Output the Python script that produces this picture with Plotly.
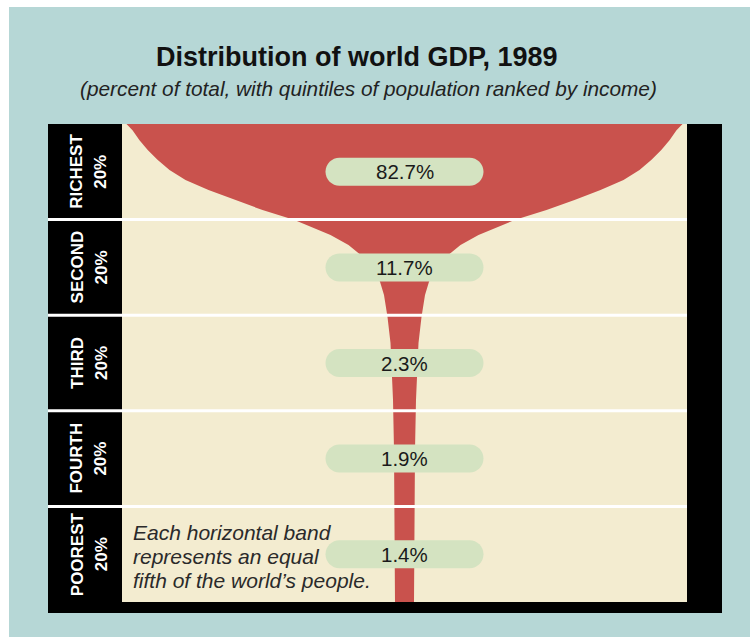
import plotly.graph_objects as go

# ---------------- data ----------------
quintiles = ["RICHEST", "SECOND", "THIRD", "FOURTH", "POOREST"]
population_share = [20, 20, 20, 20, 20]          # % of world population per band
gdp_share = [82.7, 11.7, 2.3, 1.9, 1.4]          # % of world GDP per band

# outline of the "champagne glass":
# population rank (0 = poorest, 100 = richest) and half-width of the red shape
funnel_rank = [100.0, 98.7, 96.6, 94.6, 92.5, 90.4, 88.3, 86.2, 84.1, 82.0, 79.9,
               78.9, 76.8, 74.7, 73.2, 71.6, 69.5, 67.0, 64.2, 59.6, 54.2, 48.5,
               42.3, 31.8, 21.3, 0.0]
funnel_halfwidth = [278, 272, 265, 257, 247, 235, 219, 196, 170, 142, 110,
                    98, 74, 56, 47, 38, 30.5, 24.5, 20.5, 17, 14, 12.5,
                    11.5, 10.5, 10, 9.5]

title = "Distribution of world GDP, 1989"
subtitle = "(percent of total, with quintiles of population ranked by income)"
note_lines = ["Each horizontal band", "represents an equal",
              "fifth of the world\u2019s people."]

# ---------------- styling ----------------
TEAL = "#b6d7d6"
CREAM = "#f3ecd0"
RED = "#c9524d"
PILL = "#d4e3c1"
INK = "#1a1a1a"
FONT = "Liberation Sans, Arial, Helvetica, sans-serif"

W, H = 750, 637
ML, MR, MT, MB = 122, 63, 124, 35
PW, PH = W - ML - MR, H - MT - MB


def px_x(p):   # pixel x -> paper x
    return (p - ML) / PW


def px_y(p):   # pixel y -> paper y
    return (H - MB - p) / PH


# band geometry derived from population shares (top = richest)
tops, bottoms = [], []
acc = 100.0
for s in population_share:
    tops.append(acc)
    bottoms.append(acc - s)
    acc -= s
centers = [(t + b) / 2 for t, b in zip(tops, bottoms)]

fig = go.Figure()

xs = list(funnel_halfwidth) + [-v for v in reversed(funnel_halfwidth)]
ys = list(funnel_rank) + list(reversed(funnel_rank))
fig.add_trace(go.Scatter(x=xs, y=ys, fill="toself", fillcolor=RED,
                         mode="lines", line=dict(width=0, color=RED),
                         hoverinfo="skip", showlegend=False))

shapes = []
# white outer margin (top / left)
shapes.append(dict(type="rect", xref="paper", yref="paper", layer="below",
                   x0=px_x(0), x1=px_x(9), y0=px_y(H), y1=px_y(0),
                   fillcolor="white", line=dict(width=0)))
shapes.append(dict(type="rect", xref="paper", yref="paper", layer="below",
                   x0=px_x(0), x1=px_x(W), y0=px_y(7), y1=px_y(0),
                   fillcolor="white", line=dict(width=0)))
# black frame pieces (left label strip, right strip, bottom)
for (a, b, c, d) in [(48, 122, 124, 613), (687, 722, 124, 613), (48, 722, 602, 613)]:
    shapes.append(dict(type="rect", xref="paper", yref="paper", layer="below",
                       x0=px_x(a), x1=px_x(b), y0=px_y(d), y1=px_y(c),
                       fillcolor="black", line=dict(width=0)))
# white separators between bands
for b in bottoms[:-1]:
    shapes.append(dict(type="line", xref="paper", yref="y", layer="above",
                       x0=px_x(48), x1=1, y0=b, y1=b,
                       line=dict(color="white", width=3)))
# green pills
hw, hh, st = 79, 14, 65
k = 0.5523 * hh
pill_path = (f"M {-st},{-hh} L {st},{-hh} "
             f"C {st + k},{-hh} {hw},{-k} {hw},0 "
             f"C {hw},{k} {st + k},{hh} {st},{hh} "
             f"L {-st},{hh} "
             f"C {-st - k},{hh} {-hw},{k} {-hw},0 "
             f"C {-hw},{-k} {-st - k},{-hh} {-st},{-hh} Z")
for c in centers:
    shapes.append(dict(type="path", xref="x", yref="y", layer="above",
                       xsizemode="pixel", ysizemode="pixel",
                       xanchor=0, yanchor=c, path=pill_path,
                       fillcolor=PILL, line=dict(width=0)))

annotations = []
for q, s, c, g in zip(quintiles, population_share, centers, gdp_share):
    annotations.append(dict(xref="paper", yref="y", x=px_x(77), y=c,
                            text=f"<b>{q}</b>", textangle=-90,
                            showarrow=False, xanchor="center", yanchor="middle",
                            font=dict(family=FONT, size=17, color="white")))
    annotations.append(dict(xref="paper", yref="y", x=px_x(101), y=c,
                            text=f"<b>{s}%</b>", textangle=-90,
                            showarrow=False, xanchor="center", yanchor="middle",
                            font=dict(family=FONT, size=17, color="white")))
    annotations.append(dict(xref="x", yref="y", x=0, y=c,
                            text=f"{g}%", showarrow=False,
                            xanchor="center", yanchor="middle",
                            font=dict(family=FONT, size=20.5, color=INK)))

for i, line in enumerate(note_lines):
    annotations.append(dict(xref="paper", yref="paper", x=px_x(131),
                            y=px_y(532 + 24 * i),
                            text=f"<i>{line}</i>", showarrow=False, align="left",
                            xanchor="left", yanchor="middle",
                            font=dict(family=FONT, size=21, color="#2a2a2a")))
annotations.append(dict(xref="paper", yref="paper", x=px_x(357), y=px_y(57),
                        text=f"<b>{title}</b>", showarrow=False,
                        xanchor="center", yanchor="middle",
                        font=dict(family=FONT, size=27, color="#111111")))
annotations.append(dict(xref="paper", yref="paper", x=px_x(368), y=px_y(89),
                        text=f"<i>{subtitle}</i>", showarrow=False,
                        xanchor="center", yanchor="middle",
                        font=dict(family=FONT, size=20.8, color="#222222")))

fig.update_layout(
    width=W, height=H,
    margin=dict(l=ML, r=MR, t=MT, b=MB, pad=0),
    paper_bgcolor=TEAL, plot_bgcolor=CREAM,
    xaxis=dict(range=[-PW / 2, PW / 2], visible=False, fixedrange=True),
    yaxis=dict(range=[0, 100], visible=False, fixedrange=True),
    shapes=shapes, annotations=annotations,
    showlegend=False,
)

fig.write_html("out.html")
